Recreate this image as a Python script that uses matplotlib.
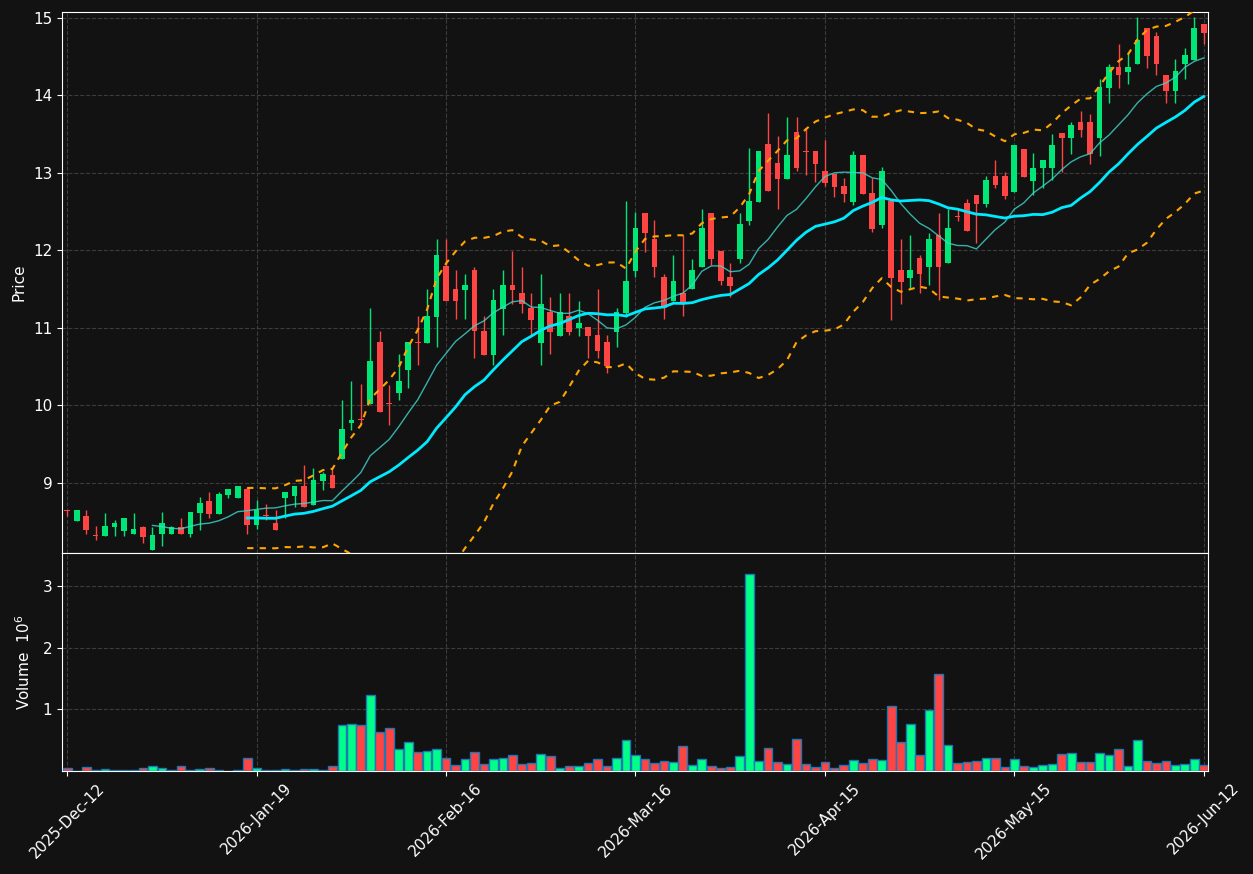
import numpy as np
import pandas as pd
import matplotlib
matplotlib.use("Agg")
import matplotlib.pyplot as plt

# OHLC, one entry per trading bar
opens = [8.65, 8.51, 8.574, 8.33, 8.32, 8.43, 8.38, 8.346, 8.432, 8.14,
         8.346, 8.346, 8.428, 8.346, 8.613, 8.768, 8.604, 8.845, 8.81, 8.923,
         8.458, 8.59, 8.484, 8.81, 8.836, 8.96, 8.72, 9.026, 9.103, 9.314,
         9.778, 9.825, 10.023, 10.82, 10.035, 10.165, 10.46, 10.82, 10.81, 11.146,
         11.80, 11.503, 11.494, 11.748, 10.96, 10.655, 11.25, 11.555, 11.45, 11.262,
         10.81, 11.21, 10.9, 11.155, 11.004, 11.013, 10.91, 10.815, 10.952, 11.197,
         11.74, 12.48, 12.145, 11.654, 11.352, 11.448, 11.50, 11.79, 12.48, 11.994,
         11.654, 11.894, 12.385, 12.63, 13.374, 13.13, 12.926, 13.53, 13.285, 13.284,
         13.026, 12.987, 12.832, 12.63, 13.232, 12.742, 12.33, 12.64, 11.748, 11.65,
         11.90, 11.79, 12.2, 11.84, 12.44, 12.61, 12.716, 12.604, 12.96, 12.96,
         12.76, 13.31, 12.90, 13.065, 13.065, 13.516, 13.452, 13.658, 13.658, 13.455,
         14.097, 14.364, 14.30, 14.41, 14.867, 14.767, 14.265, 14.06, 14.41, 14.462,
         14.92]
highs = [8.65, 8.652, 8.648, 8.44, 8.61, 8.52, 8.548, 8.613, 8.445, 8.428,
         8.62, 8.445, 8.545, 8.626, 8.815, 8.88, 8.89, 8.919, 8.96, 8.95,
         8.777, 8.73, 8.652, 8.884, 8.96, 9.228, 9.19, 9.146, 9.21, 10.067,
         10.31, 10.277, 11.254, 10.96, 10.27, 10.66, 10.82, 11.155, 11.5, 12.145,
         12.145, 11.75, 11.69, 11.79, 11.155, 11.5, 11.748, 11.99, 11.79, 11.448,
         11.69, 11.40, 11.448, 11.448, 11.35, 11.013, 11.5, 10.91, 11.258, 12.64,
         12.49, 12.48, 12.39, 11.70, 11.94, 12.2, 11.894, 12.53, 12.48, 11.994,
         11.84, 12.48, 13.32, 13.284, 13.77, 13.477, 13.72, 13.72, 13.577, 13.284,
         13.426, 12.987, 12.93, 13.284, 13.232, 12.93, 13.077, 12.64, 12.145, 12.2,
         11.94, 12.23, 12.48, 12.53, 12.53, 12.66, 12.716, 12.96, 13.168, 13.013,
         13.36, 13.31, 13.254, 13.17, 13.507, 13.516, 13.658, 13.80, 13.757, 14.21,
         14.41, 14.66, 14.56, 15.01, 14.867, 14.82, 14.265, 14.465, 14.61, 15.01,
         14.92]
lows = [8.574, 8.51, 8.346, 8.27, 8.32, 8.32, 8.32, 8.346, 8.23, 8.14,
        8.19, 8.346, 8.346, 8.307, 8.39, 8.545, 8.604, 8.80, 8.81, 8.346,
        8.40, 8.52, 8.39, 8.545, 8.686, 8.694, 8.72, 8.914, 8.94, 9.314,
        9.684, 9.778, 10.023, 9.92, 9.744, 10.067, 10.22, 10.52, 10.81, 10.76,
        11.352, 11.11, 11.11, 10.61, 10.655, 10.52, 10.91, 11.31, 11.19, 10.91,
        10.52, 10.665, 10.90, 10.91, 10.90, 10.61, 10.61, 10.415, 10.759, 11.146,
        11.66, 11.98, 11.655, 11.11, 11.352, 11.155, 11.50, 11.79, 11.81, 11.55,
        11.40, 11.84, 12.33, 12.63, 12.773, 12.53, 12.926, 13.02, 12.98, 12.88,
        12.83, 12.69, 12.63, 12.587, 12.733, 12.235, 12.287, 11.103, 11.31, 11.50,
        11.448, 11.55, 11.36, 11.84, 12.385, 12.256, 12.1, 12.557, 12.80, 12.66,
        12.76, 12.953, 12.71, 12.806, 12.906, 13.013, 13.25, 13.46, 13.11, 13.216,
        13.907, 14.10, 14.15, 14.41, 14.36, 14.26, 13.907, 13.907, 14.21, 14.462,
        14.66]
closes = [8.64, 8.652, 8.397, 8.32, 8.445, 8.484, 8.548, 8.41, 8.303, 8.33,
          8.484, 8.428, 8.346, 8.626, 8.742, 8.604, 8.858, 8.919, 8.96, 8.458,
          8.656, 8.58, 8.39, 8.884, 8.96, 8.694, 9.039, 9.116, 8.94, 9.697,
          9.813, 9.815, 10.574, 9.92, 10.025, 10.316, 10.82, 10.81, 11.155, 11.94,
          11.352, 11.352, 11.555, 10.96, 10.655, 11.36, 11.555, 11.494, 11.31, 11.103,
          11.31, 10.95, 11.2, 10.952, 11.06, 10.90, 10.707, 10.513, 11.2, 11.606,
          12.29, 12.23, 11.79, 11.254, 11.60, 11.31, 11.748, 12.286, 11.894, 11.60,
          11.546, 12.342, 12.64, 13.284, 12.773, 12.926, 13.232, 13.07, 13.275, 13.12,
          12.875, 12.82, 12.733, 13.232, 12.733, 12.28, 13.026, 11.65, 11.597, 11.748,
          11.69, 12.145, 11.79, 12.286, 12.43, 12.256, 12.604, 12.91, 12.845, 12.707,
          13.36, 12.953, 13.065, 13.17, 13.357, 13.452, 13.615, 13.56, 13.25, 14.106,
          14.364, 14.26, 14.364, 14.716, 14.514, 14.41, 14.06, 14.31, 14.527, 14.87,
          14.81]
# volume in millions
volumes = [0.043, 0.005, 0.06, 0.016, 0.027, 0.016, 0.016, 0.016, 0.043, 0.076,
           0.043, 0.016, 0.076, 0.016, 0.027, 0.043, 0.016, 0.004, 0.016, 0.206,
           0.043, 0.016, 0.016, 0.027, 0.016, 0.027, 0.027, 0.016, 0.076, 0.741,
           0.758, 0.741, 1.228, 0.628, 0.693, 0.352, 0.465, 0.303, 0.319, 0.352,
           0.206, 0.092, 0.189, 0.303, 0.108, 0.189, 0.206, 0.254, 0.108, 0.124,
           0.27, 0.238, 0.043, 0.076, 0.076, 0.124, 0.189, 0.076, 0.206, 0.498,
           0.254, 0.189, 0.124, 0.157, 0.141, 0.40, 0.092, 0.189, 0.076, 0.043,
           0.06, 0.238, 3.19, 0.157, 0.368, 0.141, 0.108, 0.514, 0.108, 0.06,
           0.141, 0.043, 0.092, 0.173, 0.124, 0.189, 0.173, 1.05, 0.465, 0.758,
           0.254, 0.985, 1.57, 0.417, 0.124, 0.141, 0.157, 0.206, 0.206, 0.06,
           0.189, 0.076, 0.06, 0.092, 0.108, 0.27, 0.287, 0.141, 0.141, 0.287,
           0.254, 0.352, 0.076, 0.498, 0.157, 0.124, 0.157, 0.092, 0.108, 0.189,
           0.092]
tick_labels = ['2025-Dec-12', '2026-Jan-19', '2026-Feb-16', '2026-Mar-16',
               '2026-Apr-15', '2026-May-15', '2026-Jun-12']

bg = '#121212'
up_col = '#00e676'
down_col = '#ff4444'
vol_up = '#00ff88'
vol_down = '#ff4444'

df = pd.DataFrame({'Open': opens, 'High': highs, 'Low': lows,
                   'Close': closes, 'Volume': volumes})
x = np.arange(len(df))
is_up = (df['Close'] >= df['Open']).values

mav10 = df['Close'].rolling(10).mean()
mav20 = df['Close'].rolling(20).mean()
std20 = df['Close'].rolling(20).std(ddof=0)
bb_up = mav20 + 2 * std20
bb_lo = mav20 - 2 * std20

fig = plt.figure(figsize=(12.53, 8.74), dpi=100, facecolor=bg)
ax = fig.add_axes([0.0495, 0.3673, 0.9146, 0.619], facecolor=bg)
axv = fig.add_axes([0.0495, 0.1178, 0.9146, 0.2495], facecolor=bg, sharex=ax)

# candles
cols = np.where(is_up, up_col, down_col)
ax.vlines(x, df['Low'], df['High'], colors=cols, linewidth=1, zorder=3)
body_lo = np.minimum(df['Open'], df['Close'])
body_h = np.maximum((df['Close'] - df['Open']).abs(), 0.012)
ax.bar(x, body_h, bottom=body_lo, width=0.6, color=cols, linewidth=0, zorder=4)

# overlays
ax.plot(x, mav10, color='#40d8d0', linewidth=1, alpha=0.8, zorder=5)
ax.plot(x, mav20, color='#00eaff', linewidth=2, zorder=5)
ax.plot(x, bb_up, color='#ffa500', linewidth=1.5, linestyle=(0, (3, 3)), zorder=5)
ax.plot(x, bb_lo, color='#ffa500', linewidth=1.5, linestyle=(0, (3, 3)), zorder=5)

# volume
vcols = np.where(is_up, vol_up, vol_down)
axv.bar(x, df['Volume'], width=0.92, color=vcols, edgecolor='#1f77b4',
        linewidth=1, zorder=3)

ax.set_xlim(-0.55, 120.45)
ax.set_ylim(8.097, 15.077)
axv.set_ylim(0, 3.537)

ax.set_yticks(np.arange(9, 16))
axv.set_yticks([1, 2, 3])
ticks = np.arange(0, len(df), 20)
axv.set_xticks(ticks)
axv.set_xticklabels(tick_labels, rotation=45, ha='center')
ax.tick_params(axis='x', labelbottom=False, length=0)

for a in (ax, axv):
    a.grid(True, color='#3c3c3c', linestyle='--', linewidth=0.8)
    a.set_axisbelow(True)
    a.tick_params(colors='white', labelsize=11)
    for s in a.spines.values():
        s.set_color('white')

ax.set_ylabel('Price', color='white', fontsize=11)
axv.set_ylabel('Volume  $10^{6}$', color='white', fontsize=11)
ax.yaxis.set_label_coords(-0.031, 0.5)
axv.yaxis.set_label_coords(-0.025, 0.5)

fig.savefig('out.png', dpi=100, facecolor=bg)
